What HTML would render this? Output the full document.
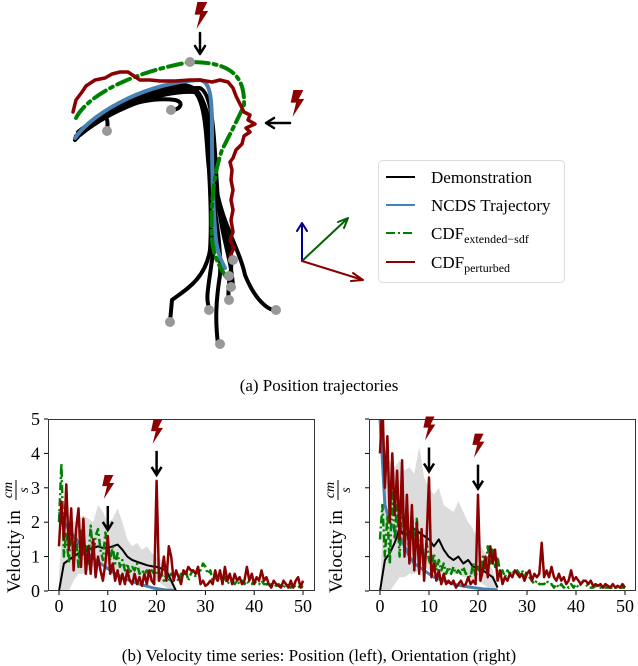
<!DOCTYPE html>
<html><head><meta charset="utf-8"><style>
body{margin:0;background:#fff}
svg{display:block;font-family:"Liberation Serif",serif}
</style></head><body>
<svg width="638" height="666" viewBox="0 0 638 666">
<defs>
<clipPath id="cl"><rect x="48" y="419" width="267" height="172"/></clipPath>
<clipPath id="cr"><rect x="369" y="419" width="267" height="172"/></clipPath>
<symbol id="bolt" viewBox="0 0 20 30"><path d="M6 0 L17 0 L12 10 L18 10 L5 30 L9 14 L3 14 Z" fill="#8b0000"/></symbol>
</defs>

<g fill="none" stroke-linecap="round" stroke-linejoin="round">
 <g stroke="#000" stroke-width="4">
  <path d="M75 140 C90 120 130 95 175 85 C200 82 205 100 207 140 C210 180 212 220 210 250 C205 280 185 290 172 300 L170 322"/>
  <path d="M77 138 C95 115 135 92 180 85 C205 84 207 110 210 150 C213 190 218 230 212 260 C208 290 205 300 210 310"/>
  <path d="M76 136 C100 112 140 90 182 86 C203 86 205 115 208 160 C212 200 222 240 220 275 C216 300 215 320 218 344"/>
  <path d="M78 134 C100 110 150 88 188 88 C206 90 210 130 212 170 C216 210 228 240 232 262"/>
  <path d="M80 132 C105 108 155 88 190 90 C210 92 212 140 215 180 C220 220 240 250 245 275 C255 300 268 310 275 310"/>
  <path d="M80 135 C110 110 160 90 195 92 C208 100 212 140 216 190 C222 230 236 250 230 275 C228 290 228 296 229 300"/>
  <path d="M78 132 C105 110 145 96 175 100 C185 102 180 110 172 110"/>
  <path d="M82 130 C100 115 110 110 107 130"/>
  <path d="M85 128 C110 105 160 88 200 88 C215 95 214 150 218 200 C222 240 232 260 233 288"/>
 </g>
 <path stroke="#4682b4" stroke-width="4" d="M75 138 C95 110 150 82 200 80 C210 82 212 95 212 130 C212 170 213 210 216 240 C218 255 222 262 225 268"/>
 <path stroke="#008000" stroke-width="4" stroke-dasharray="14 5 3 5" d="M76 118 C85 100 120 75 190 62 C230 62 245 75 244 105 C240 115 232 130 222 150 C215 170 210 200 212 240 C214 260 222 270 228 280"/>
 <path stroke="#8b0000" stroke-width="3.5" d="M73 112 L76 100 L82 92 L86 86 L95 80 L105 78 L112 74 L120 72 L128 72 L134 76 L140 80 L150 80 L160 81 L175 81 L190 80 L200 80 L212 82 L220 80 L228 82 L233 88 L236 96 L240 104 L244 112 L250 115 L248 120 L255 124 L246 128 L250 132 L244 136 L242 144 L236 150 L233 158 L230 162 L232 170 L231 180 L233 190 L231 200 L233 210 L231 220 L233 232 L230 240 L234 248 L230 256 L232 262"/>
 <g fill="#999" stroke="none">
  <circle cx="190" cy="62" r="5"/><circle cx="107" cy="131" r="5"/><circle cx="171" cy="110" r="5"/>
  <circle cx="233" cy="260" r="5"/><circle cx="229" cy="276" r="5"/><circle cx="231" cy="287" r="5"/>
  <circle cx="229" cy="300" r="5"/><circle cx="209" cy="310" r="5"/><circle cx="170" cy="322" r="5"/>
  <circle cx="276" cy="310" r="5"/><circle cx="220" cy="344" r="5"/>
 </g>
 <use href="#bolt" x="192" y="2" width="18" height="27"/>
 <path stroke="#000" stroke-width="2.5" d="M200 33 V52 M195 46 L200 54 L205 46"/>
 <use href="#bolt" x="288" y="90" width="18" height="27"/>
 <path stroke="#000" stroke-width="2.5" d="M290 123 H268 M274 118 L266 123 L274 128"/>
 <g stroke-width="2">
  <path stroke="#00008b" d="M302 261 V224 M297 231 L302 223 L307 231"/>
  <path stroke="#006400" d="M302 261 L348 218 M338 222 L348 218 L344 228"/>
  <path stroke="#8b0000" d="M302 261 L363 280 M353 273 L363 280 L351 281"/>
 </g>
</g>

<g>
 <rect x="378.5" y="160.5" width="186" height="122" rx="4" fill="#fff" stroke="#ddd"/>
 <line x1="386" y1="177" x2="415" y2="177" stroke="#000" stroke-width="2"/>
 <text x="431" y="183" font-size="17">Demonstration</text>
 <line x1="386" y1="205" x2="415" y2="205" stroke="#4682b4" stroke-width="2"/>
 <text x="431" y="211" font-size="17">NCDS Trajectory</text>
 <line x1="386" y1="233" x2="415" y2="233" stroke="#008000" stroke-width="2" stroke-dasharray="9 3 2 3"/>
 <text x="431" y="239" font-size="17">CDF<tspan font-size="12" dy="4">extended−sdf</tspan></text>
 <line x1="386" y1="262" x2="415" y2="262" stroke="#8b0000" stroke-width="2"/>
 <text x="431" y="268" font-size="17">CDF<tspan font-size="12" dy="4">perturbed</tspan></text>
</g>
<text x="319" y="391" font-size="17" text-anchor="middle">(a) Position trajectories</text>
<text x="319" y="661" font-size="17" text-anchor="middle">(b) Velocity time series: Position (left), Orientation (right)</text>

<g id="left"></g>
<g id="right"></g>
</svg>
<script>
const xTicks=[0,10,20,30,40,50];
const yTicks=[0,1,2,3,4,5];
const meanT=[0,1,2,3,4,5,6,7,8,9,10,11,12,13,14,15,16,17,18,19,20,21,22,23,24];
const L_black=[0,0.8,0.9,1.0,1.1,1.15,1.2,1.25,1.3,1.25,1.25,1.3,1.35,1.2,1.0,0.9,0.85,0.8,0.75,0.72,0.7,0.65,0.6,0.3,0];
const L_upper=[0.5,2.3,2.2,2.0,2.1,2.2,2.1,2.0,2.5,2.3,2.0,2.1,2.4,2.0,1.5,1.3,1.4,1.2,1.3,1.1,1.0,0.9,0.8,0.5,0];
const L_lower=[0,0,0,0.3,0.5,0.5,0.6,0.7,0.8,0.7,0.6,0.6,0.6,0.5,0.4,0.4,0.4,0.35,0.3,0.3,0.3,0.2,0.1,0,0];
const L_blue=[2.3,2.0,1.8,1.6,1.4,1.25,1.1,0.95,0.85,0.75,0.65,0.55,0.48,0.4,0.33,0.28,0.22,0.18,0.14,0.1,0.07,0.05,0.03,0.02,0.01];
const L_red=[1.3,2.6,1.5,3.1,1.2,2.4,0.6,1.8,2.4,0.7,2.1,0.5,1.3,0.5,1.5,0.4,1.0,0.6,0.3,0.8,1.6,0.5,0.8,0.3,0.6,0.2,0.5,0.2,0.6,0.3,0.2,0.5,0.2,0.4,0.15,0.5,0.2,0.6,0.3,0.2,3.2,0.3,0.5,1.0,0.3,1.3,1.0,0.3,0.6,0.4,0.2,0.6,0.5,0.7,0.6,0.6,0.5,0.7,0.2,0.3,0.15,0.2,0.3,0.2,0.6,0.3,0.6,0.2,0.7,0.3,0.5,0.2,0.5,0.3,0.4,0.2,0.3,0.7,0.3,0.5,0.2,0.4,0.3,0.6,0.3,0.4,0.2,0.1,0.3,0.2,0.15,0.1,0.3,0.2,0.1,0.3,0.1,0.3,0.4,0.1,0.3];
const L_green=[2.0,3.7,1.0,1.7,0.8,1.9,1.0,1.6,0.7,1.8,1.0,1.3,0.8,1.9,1.0,1.6,1.8,1.2,0.9,1.7,1.2,0.9,1.3,0.8,1.1,0.7,0.9,0.6,0.8,0.5,0.7,0.6,0.8,0.5,0.6,0.5,0.6,0.4,0.6,0.5,0.6,0.4,0.5,0.3,0.5,0.3,0.5,0.4,0.4,0.3,0.5,0.4,0.6,0.3,0.5,0.6,0.4,0.7,0.6,0.8,0.7,0.5,0.6,0.3,0.4,0.3,0.4,0.3,0.4,0.2,0.3,0.3,0.2,0.3,0.2,0.3,0.2,0.3,0.2,0.2,0.3,0.2,0.2,0.3,0.2,0.2,0.15,0.2,0.2,0.15,0.2,0.15,0.1,0.2,0.15,0.1,0.2,0.1,0.1,0.15,0.1];
const R_black=[0,0.9,1.1,1.4,1.8,1.6,1.7,1.8,1.7,1.6,1.5,1.3,1.5,1.2,1.0,0.9,1.0,0.8,0.9,0.7,0.7,0.6,0.5,0.4,0.1];
const R_upper=[0,3.5,3.8,3.6,3.8,3.5,3.6,3.4,4.2,3.3,3.0,2.8,3.0,2.5,2.4,2.3,2.6,2.3,2.0,1.8,1.5,1.2,1.0,0.6,0.2];
const R_lower=[0,0,0,0.2,0.4,0.4,0.5,0.5,0.6,0.7,0.6,0.6,0.6,0.5,0.5,0.5,0.5,0.4,0.4,0.3,0.3,0.2,0.1,0,0];
const R_blue=[5,2.5,2.0,1.8,1.6,1.3,1.0,0.8,0.7,0.6,0.5,0.4,0.35,0.3,0.25,0.2,0.17,0.14,0.12,0.1,0.08,0.06,0.05,0.04,0.03];
const R_red=[4,5.5,3,4.5,2.0,4.0,2.2,3.5,1.5,3.8,1.0,2.8,0.8,2.5,0.6,2.0,0.5,1.8,0.3,1.5,3.3,0.4,0.8,0.3,0.6,0.2,0.5,0.2,0.3,0.2,0.3,0.1,0.2,0.3,0.15,0.2,0.4,0.2,0.3,0.2,2.8,0.3,0.6,1.0,0.4,1.3,0.8,1.2,0.3,0.6,0.2,0.4,0.3,0.5,0.4,0.6,0.5,0.4,0.5,0.3,0.5,0.6,0.3,0.5,0.4,0.5,1.4,0.4,0.6,0.4,0.7,0.4,0.3,0.5,0.3,0.4,0.2,0.3,0.6,0.3,0.4,0.3,0.2,0.3,0.3,0.2,0.3,0.15,0.2,0.15,0.2,0.1,0.2,0.15,0.1,0.2,0.1,0.15,0.1,0.2,0.1];
const R_green=[1.5,2.5,1.0,2.2,0.8,3.0,1.5,2.5,1.0,2.7,1.3,2.2,0.9,2.3,1.2,2.1,0.9,1.6,0.8,1.4,0.9,0.7,1.1,0.6,0.9,0.6,0.8,0.5,0.7,0.5,0.7,0.5,0.6,0.5,0.7,0.5,0.5,0.4,0.8,0.4,0.7,0.5,1.0,0.6,1.3,0.8,1.2,0.7,1.0,0.5,0.6,0.4,0.6,0.5,0.6,0.5,0.6,0.5,0.6,0.4,0.6,0.4,0.3,0.2,0.3,0.2,0.2,0.2,0.3,0.2,0.2,0.1,0.2,0.1,0.2,0.1,0.15,0.1,0.2,0.1,0.2,0.1,0.2,0.3,0.2,0.1,0.1,0.1,0.15,0.1,0.1,0.1,0.1,0.1,0.1,0.1,0.1,0.1,0.1,0.1,0.1];
const L_marks=[[10,1.6],[20,3.2]];
const R_marks=[[10,3.3],[20,2.8]];

const NS="http://www.w3.org/2000/svg";
function mk(t,a,p){const e=document.createElementNS(NS,t);for(const k in a)e.setAttribute(k,a[k]);p.appendChild(e);return e;}
function chart(g,o){
 const X0=o.x0,X50=o.x50,L=o.left,R=o.right,T=419,B=591;
 const sx=v=>X0+(X50-X0)*v/50, sy=v=>B-(B-T)*v/5;
 const clip=mk('g',{'clip-path':'url(#'+o.clip+')'},g);
 let d='';meanT.forEach((t,i)=>d+=(i?'L':'M')+sx(t)+' '+sy(o.upper[i]));
 for(let i=meanT.length-1;i>=0;i--)d+='L'+sx(meanT[i])+' '+sy(o.lower[i]);
 const band=mk('path',{d:d+'Z',fill:'#dcdcdc'},clip);
 
 
 const line=(arr,ts,st,name)=>{let p='';arr.forEach((v,i)=>p+=(i?'L':'M')+sx(ts(i)).toFixed(1)+' '+sy(v).toFixed(1));
  const e=mk('path',Object.assign({d:p,fill:'none','stroke-linejoin':'round'},st),clip);
  
  };
 line(o.blue,i=>i,{stroke:'#4682b4','stroke-width':3},'ncds-velocity');
 line(o.black,i=>meanT[i],{stroke:'#000','stroke-width':2},'demonstration-mean');
 line(o.green,i=>i*0.5,{stroke:'#008000','stroke-width':2.5,'stroke-dasharray':'8 3 2 3'},'cdf-extended-sdf-velocity');
 line(o.red,i=>i*0.5,{stroke:'#8b0000','stroke-width':2.5},'cdf-perturbed-velocity');
 const fr=mk('rect',{x:L+.5,y:T+.5,width:R-L-1,height:B-T-1,fill:'none',stroke:'#333','stroke-width':1},g);
 
 
 xTicks.forEach(v=>{mk('line',{x1:sx(v),x2:sx(v),y1:B,y2:B+4,stroke:'#000'},g);
  const t=mk('text',{x:sx(v),y:B+21,'font-size':18,'text-anchor':'middle'},g);t.textContent=v;
  
  });
 yTicks.forEach(v=>{mk('line',{x1:L-4,x2:L,y1:sy(v),y2:sy(v),stroke:'#000'},g);
  if(o.labels){const t=mk('text',{x:L-8,y:sy(v)+6,'font-size':18,'text-anchor':'end'},g);t.textContent=v;
  
  }});
 const yl=mk('g',{transform:'translate('+o.ylx+','+(B+2)+') rotate(-90)'},g);
 
 
 const t1=mk('text',{x:0,y:0,'font-size':19},yl);t1.textContent='Velocity in';
 const t2=mk('text',{x:103,y:-8,'font-size':14,'font-style':'italic','text-anchor':'middle'},yl);t2.textContent='cm';
 mk('line',{x1:93,x2:113,y1:-4,y2:-4,stroke:'#000','stroke-width':1},yl);
 const t3=mk('text',{x:103,y:8,'font-size':14,'font-style':'italic','text-anchor':'middle'},yl);t3.textContent='s';
 o.marks.forEach(m=>{const x=sx(m[0]),y=sy(m[1]);
  const a=mk('path',{d:'M'+x+' '+(y-30)+'V'+(y-8)+'M'+(x-5)+' '+(y-14)+'L'+x+' '+(y-6)+'L'+(x+5)+' '+(y-14),stroke:'#000','stroke-width':2.5,fill:'none'},g);
  
  
  const b=mk('use',{href:'#bolt',x:x-8,y:y-62,width:16,height:26},g);
  
  });
}
chart(document.getElementById('left'),{x0:59,x50:303,left:48,right:315,clip:'cl',labels:true,ylx:20,upper:L_upper,lower:L_lower,black:L_black,blue:L_blue,red:L_red,green:L_green,marks:L_marks});
chart(document.getElementById('right'),{x0:380,x50:625,left:369,right:636,clip:'cr',labels:false,ylx:342,upper:R_upper,lower:R_lower,black:R_black,blue:R_blue,red:R_red,green:R_green,marks:R_marks});
</script>
</body></html>
